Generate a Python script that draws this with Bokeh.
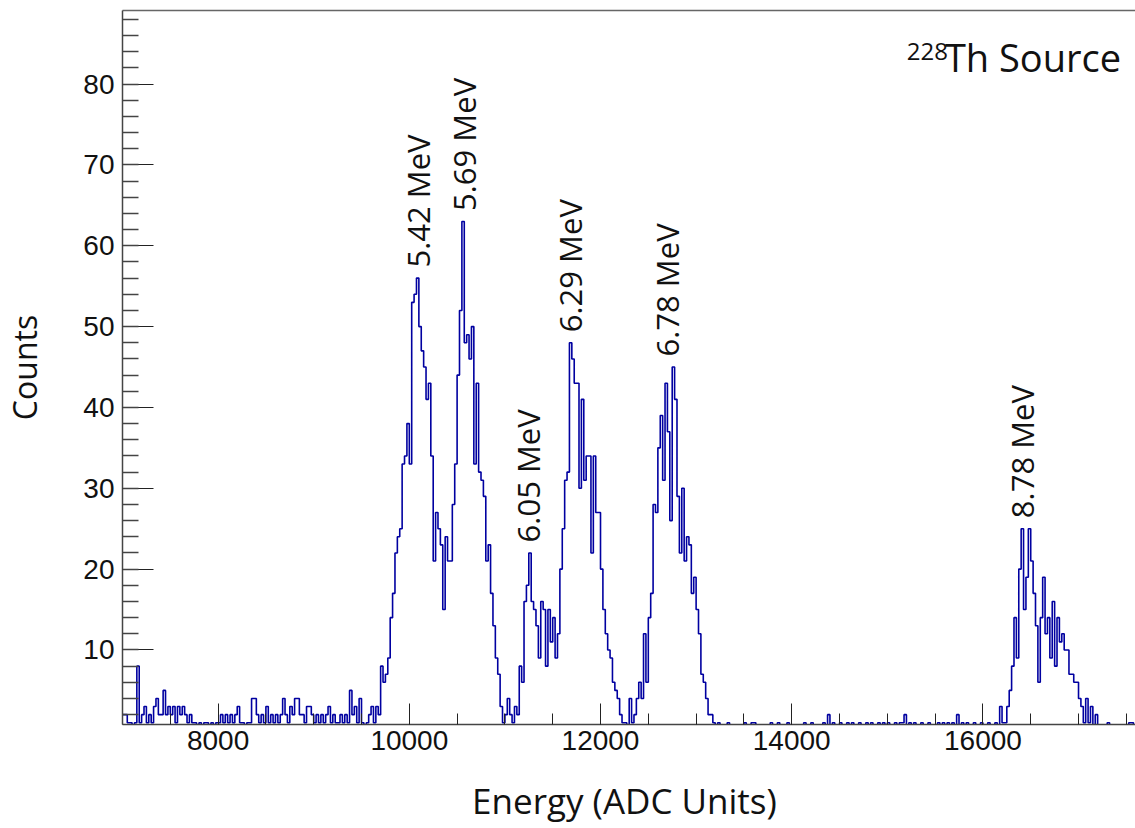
from bokeh.plotting import figure
from bokeh.models import Range1d, SingleIntervalTicker, FixedTicker, LinearAxis, Label, LabelSet, ColumnDataSource
from bokeh.core.properties import value
from bokeh.embed import file_html
from bokeh.resources import INLINE
import numpy as np

# ---------------- data ----------------
bin_start = 7000      # ADC units
bin_width = 25        # ADC units per bin

# counts, bins 0-104 (7000-9625): flat background
counts_background_low = [
    2, 2, 1, 1, 0, 1, 8, 1, 2, 3,
    1, 2, 1, 3, 4, 2, 2, 5, 2, 3,
    2, 3, 1, 3, 2, 3, 2, 1, 2, 1,
    1, 0, 1, 0, 1, 1, 0, 1, 0, 1,
    1, 2, 1, 2, 1, 2, 1, 2, 3, 1,
    1, 0, 1, 1, 4, 4, 2, 1, 2, 1,
    3, 1, 2, 1, 2, 1, 2, 4, 2, 1,
    3, 2, 4, 4, 2, 2, 1, 3, 3, 2,
    1, 2, 1, 2, 1, 2, 3, 1, 2, 1,
    1, 2, 1, 2, 1, 5, 2, 3, 1, 4,
    1, 0, 1, 2, 3,
]
# bins 105-209 (9625-12250): 5.42, 5.69, 6.05, 6.29 MeV peaks
counts_peaks_542_629 = [
    1, 3, 2, 8, 6, 7, 9, 14, 17, 22,
    24, 25, 33, 34, 38, 33, 53, 54, 56, 50,
    47, 45, 41, 43, 34, 21, 27, 25, 23, 15,
    24, 21, 21, 28, 33, 44, 52, 63, 48, 49,
    46, 50, 33, 43, 32, 31, 29, 21, 23, 17,
    13, 9, 7, 3, 1, 2, 4, 2, 1, 3,
    2, 8, 6, 16, 18, 22, 16, 15, 13, 9,
    16, 15, 8, 15, 11, 14, 9, 12, 20, 25,
    31, 32, 48, 46, 43, 43, 30, 41, 31, 34,
    34, 22, 34, 27, 27, 20, 15, 12, 10, 9,
    6, 5, 4, 2, 1,
]
# bins 210-248 (12250-13225): 6.78 MeV peak
counts_peak_678 = [
    1, 0, 4, 1, 2, 4, 6, 4, 12, 6,
    14, 17, 28, 27, 35, 39, 31, 43, 37, 26,
    45, 41, 29, 22, 30, 21, 24, 23, 17, 19,
    15, 12, 7, 6, 4, 2, 2, 1, 0,
]
# bins 249-363 (13225-16100): gap
counts_gap = [
    1, 0, 0, 0, 1, 0, 0, 0, 0, 0,
    0, 1, 0, 0, 1, 1, 0, 0, 0, 0,
    0, 0, 1, 0, 0, 1, 0, 0, 0, 1,
    0, 0, 0, 0, 0, 0, 1, 0, 0, 1,
    0, 0, 0, 0, 1, 0, 2, 0, 1, 0,
    0, 1, 0, 0, 1, 0, 1, 0, 0, 1,
    0, 0, 1, 0, 1, 0, 0, 1, 0, 1,
    0, 1, 0, 0, 1, 0, 1, 1, 2, 0,
    1, 0, 1, 0, 0, 1, 0, 0, 1, 0,
    0, 0, 1, 0, 1, 0, 1, 0, 1, 0,
    2, 0, 1, 0, 1, 0, 0, 1, 0, 0,
    1, 0, 0, 1, 0,
]
# bins 364-406 (16100-17175): 8.78 MeV peak
counts_peak_878 = [
    0, 1, 0, 3, 1, 1, 3, 5, 8, 14,
    9, 20, 25, 15, 19, 25, 21, 17, 13, 6,
    14, 19, 12, 14, 9, 16, 8, 14, 11, 12,
    10, 10, 7, 7, 6, 6, 4, 3, 1, 4,
    1, 3, 0,
]
# bins 407-424 (17175-17625): tail
counts_tail = [2, 0, 0, 0, 0, 1, 0, 0, 0, 0, 0, 0, 0, 0, 1, 1, 0, 0]

peak_labels = ["5.42 MeV", "5.69 MeV", "6.05 MeV", "6.29 MeV", "6.78 MeV", "8.78 MeV"]
peak_adc = [10094, 10573, 11245, 11685, 12700, 16408]

x_ticks_interval = 2000
y_ticks_interval = 10

# ---------------- build ----------------
counts = np.array(counts_background_low + counts_peaks_542_629 + counts_peak_678
                  + counts_gap + counts_peak_878 + counts_tail, dtype=float)
edges = bin_start + bin_width * np.arange(len(counts) + 1)
step_y = np.append(counts, counts[-1])
centers = edges[:-1] + bin_width / 2

label_y = []
for xa in peak_adc:
    m = (centers >= xa - 70) & (centers <= xa + 70)
    label_y.append(counts[m].max() + 1.3)

p = figure(width=1135, height=826,
           x_range=Range1d(7000, 17596), y_range=Range1d(0.78, 89.1),
           output_backend="svg", toolbar_location=None,
           min_border_left=122, min_border_right=0, min_border_top=10, min_border_bottom=101)
p.grid.visible = False
p.outline_line_color = None
p.background_fill_color = "white"
p.border_fill_color = "white"

p.step(edges, step_y, mode="after", line_color="#0000a0", line_width=1.6)

tick_font = "Liberation Sans"
for ax in p.xaxis:
    ax.ticker = SingleIntervalTicker(interval=x_ticks_interval, num_minor_ticks=4)
    ax.major_tick_in = 21
    ax.major_tick_out = 0
    ax.minor_tick_in = 11
    ax.minor_tick_out = 0
    ax.major_label_standoff = 6
    ax.major_label_text_font = tick_font
    ax.major_label_text_font_size = "28px"
    ax.major_label_text_color = "#111111"
    ax.axis_line_color = "#444444"
    ax.axis_line_width = 1.5
    ax.major_tick_line_color = "#222222"
    ax.minor_tick_line_color = "#222222"
    ax.axis_label = "Energy  (ADC Units)"
    ax.axis_label_text_font = "Open Sans"
    ax.axis_label_text_font_size = "35px"
    ax.axis_label_text_font_style = "normal"
    ax.axis_label_text_color = "#111111"
    ax.axis_label_standoff = 24

for ax in p.yaxis:
    ax.ticker = SingleIntervalTicker(interval=y_ticks_interval, num_minor_ticks=5)
    ax.major_tick_in = 31
    ax.major_tick_out = 0
    ax.minor_tick_in = 16
    ax.minor_tick_out = 0
    ax.major_label_standoff = 8
    ax.major_label_text_font = tick_font
    ax.major_label_text_font_size = "28px"
    ax.major_label_text_color = "#111111"
    ax.axis_line_color = "#444444"
    ax.axis_line_width = 1.5
    ax.major_tick_line_color = "#222222"
    ax.minor_tick_line_color = "#444444"
    ax.minor_tick_line_width = 1.5
    ax.axis_label = "Counts"
    ax.axis_label_text_font = "Open Sans"
    ax.axis_label_text_font_size = "32px"
    ax.axis_label_text_font_style = "normal"
    ax.axis_label_text_color = "#111111"
    ax.axis_label_standoff = 34

top = LinearAxis(ticker=FixedTicker(ticks=[]), major_label_text_font_size="0px",
                 major_tick_in=0, major_tick_out=0, minor_tick_in=0, minor_tick_out=0,
                 major_label_standoff=0, axis_line_color="#666666", axis_line_width=1.5)
p.add_layout(top, "above")

src = ColumnDataSource(dict(x=peak_adc, y=label_y, t=peak_labels))
p.add_layout(LabelSet(x="x", y="y", text="t", source=src, angle=np.pi / 2,
                      text_align="left", text_baseline="middle",
                      text_font=value("Open Sans"), text_font_size=value("31px"),
                      text_color="#111111"))

p.add_layout(Label(x=17445, y=83.36, text="Th Source", text_align="right",
                   text_baseline="alphabetic", text_font="Open Sans",
                   text_font_size="38px", text_color="#111111"))
p.add_layout(Label(x=15635, y=84.05, text="228", text_align="right",
                   text_baseline="alphabetic", text_font="Open Sans",
                   text_font_size="24px", text_color="#111111"))

open("out.html", "w").write(file_html(p, INLINE))
